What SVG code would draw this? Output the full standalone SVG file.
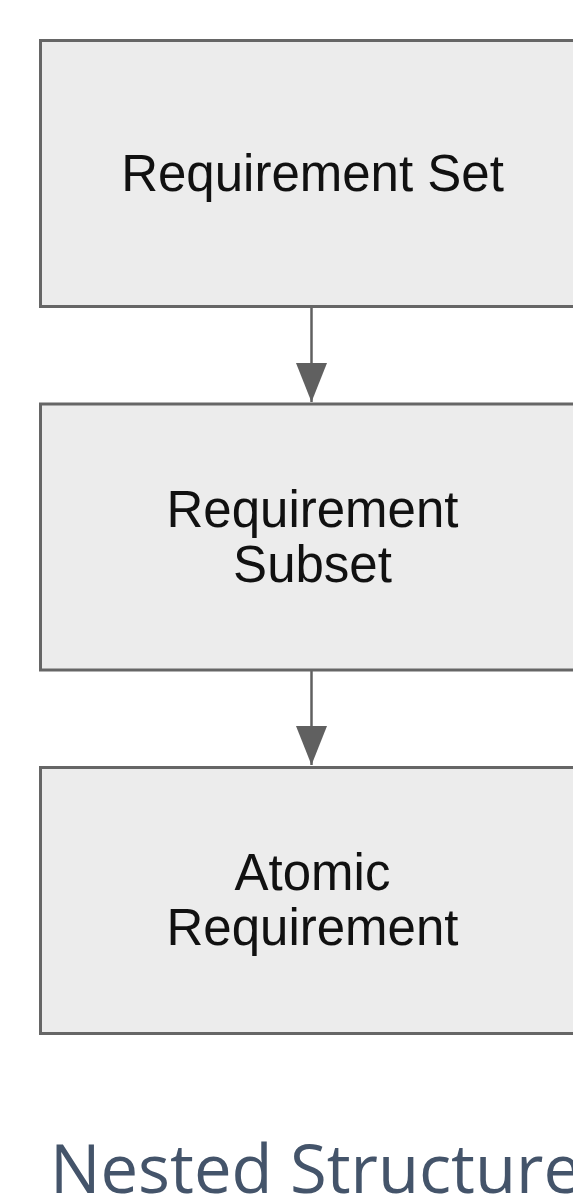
<svg xmlns="http://www.w3.org/2000/svg" width="573" height="1197" viewBox="0 0 573 1197">
  <defs>
    <style>
      .box { fill: #ececec; stroke: #666666; stroke-width: 3; }
      .label { font-family: "Liberation Sans", Arial, sans-serif; font-size: 51px; fill: #111111; text-anchor: middle; }
      .edge { stroke: #606060; stroke-width: 2.5; fill: none; }
      .caption { font-family: "Open Sans", "Noto Sans", sans-serif; font-size: 67px; fill: #44546a; }
    </style>
    <marker id="arrow" markerUnits="userSpaceOnUse" markerWidth="40" markerHeight="32" refX="39" refY="15.5" orient="auto">
      <path d="M0,0 L39,15.5 L0,31 Z" fill="#606060"/>
    </marker>
  </defs>
  <rect width="573" height="1197" fill="#ffffff"/>

  <g id="connectors">
    <line class="edge" x1="311.5" y1="307" x2="311.5" y2="402" marker-end="url(#arrow)"/>
    <line class="edge" x1="311.5" y1="671" x2="311.5" y2="765" marker-end="url(#arrow)"/>
  </g>

  <g id="node-requirement-set">
    <rect class="box" x="40.5" y="40.5" width="560" height="266"/>
    <text class="label" x="312.5" y="191">Requirement Set</text>
  </g>

  <g id="node-requirement-subset">
    <rect class="box" x="40.5" y="404" width="560" height="266"/>
    <text class="label" x="312.5" y="527">Requirement</text>
    <text class="label" x="312.5" y="582">Subset</text>
  </g>

  <g id="node-atomic-requirement">
    <rect class="box" x="40.5" y="767.5" width="560" height="266"/>
    <text class="label" x="312.5" y="890">Atomic</text>
    <text class="label" x="312.5" y="945">Requirement</text>
  </g>

  <text class="caption" x="50" y="1193">Nested Structure</text>
</svg>
